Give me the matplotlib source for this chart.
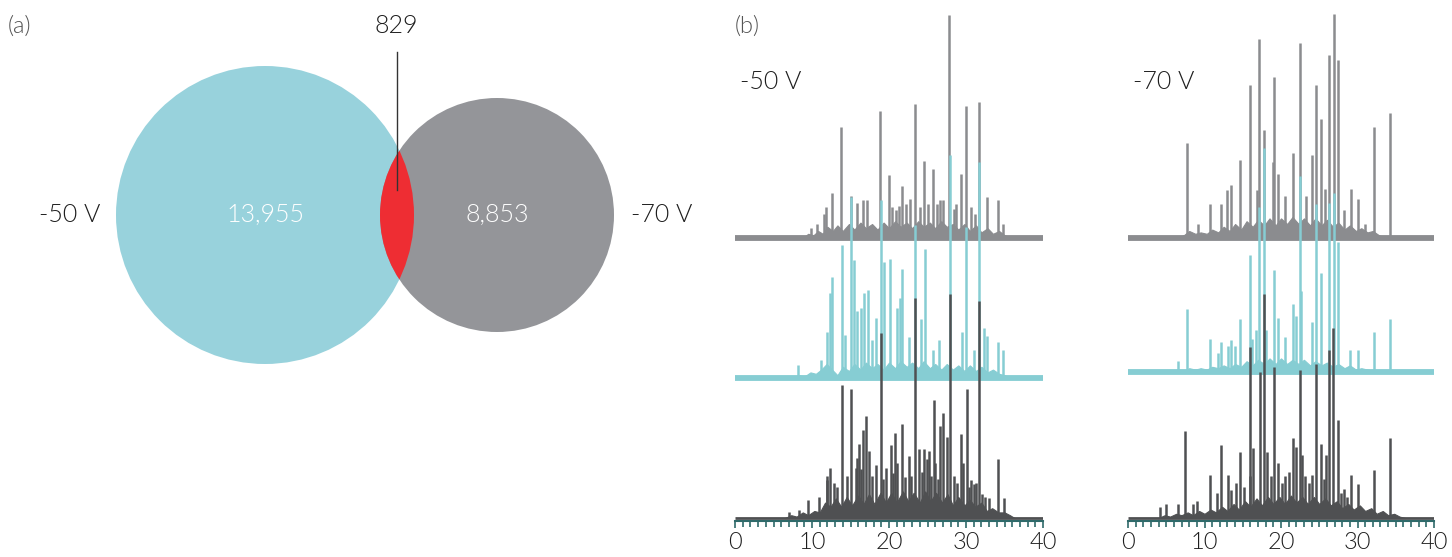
import matplotlib
matplotlib.use('Agg')
import matplotlib.pyplot as plt
from matplotlib.patches import Circle

# ---- Venn counts (a) ----
venn_labels = ['-50 V', '-70 V']
only_50 = 13955
only_70 = 8853
shared = 829

# ---- chromatograms (b): peak position (min) and height (units of trace offset) ----
# -50 V panel
p50_top_x = [9.9, 10.7, 11.5, 11.8, 12.6, 13.8, 15.0, 15.8, 16.6, 17.1, 18.8, 20.0, 20.4, 20.9,
             21.3, 21.7, 22.2, 22.7, 23.4, 24.0, 24.6, 25.1, 25.7, 26.2, 26.6, 27.0, 27.8, 28.4,
             28.7, 29.4, 30.0, 30.6, 31.2, 31.7, 32.7, 34.2, 34.8]
p50_top_h = [0.07, 0.1, 0.17, 0.22, 0.32, 0.79, 0.30, 0.25, 0.27, 0.27, 0.91, 0.45, 0.22, 0.2,
             0.23, 0.37, 0.24, 0.28, 0.96, 0.22, 0.55, 0.24, 0.49, 0.24, 0.27, 0.27, 1.59, 0.21,
             0.24, 0.46, 0.94, 0.22, 0.17, 0.97, 0.29, 0.27, 0.1]
p50_mid_x = [8.2, 11.2, 11.9, 12.3, 12.6, 13.9, 14.3, 15.0, 15.4, 15.9, 16.4, 16.8, 17.3, 17.8,
             18.3, 19.0, 19.3, 20.1, 21.0, 21.4, 21.7, 22.6, 23.4, 24.1, 24.7, 25.7, 26.5, 27.9,
             29.5, 30.0, 31.0, 31.7, 32.3, 32.7, 34.2, 34.8]
p50_mid_h = [0.09, 0.13, 0.33, 0.61, 0.72, 0.95, 0.31, 1.29, 0.84, 0.48, 0.50, 0.61, 0.63, 0.27,
             0.43, 1.27, 0.83, 0.85, 0.50, 0.57, 0.78, 0.29, 1.09, 0.42, 0.92, 0.20, 0.27, 1.59,
             0.33, 1.08, 0.20, 1.54, 0.36, 0.30, 0.26, 0.20]
p50_bot_x = [7.0, 8.3, 9.5, 10.9, 11.9, 12.0, 12.3, 12.8, 13.2, 13.9, 14.5, 15.0, 15.7, 15.8,
             16.1, 16.3, 16.6, 17.0, 17.4, 17.8, 18.3, 18.9, 19.2, 19.6, 20.2, 20.5, 20.8, 21.1,
             21.7, 22.1, 22.6, 22.9, 23.4, 23.9, 24.3, 24.6, 24.9, 25.2, 25.5, 25.8, 26.0, 26.3,
             26.6, 27.0, 27.5, 27.9, 28.4, 28.8, 29.3, 29.6, 30.1, 30.4, 30.7, 31.0, 31.3, 31.7,
             32.1, 32.5, 33.0, 34.2, 34.9]
p50_bot_h = [0.04, 0.06, 0.13, 0.15, 0.27, 0.3, 0.36, 0.25, 0.22, 0.95, 0.3, 0.92, 0.36, 0.43,
             0.53, 0.35, 0.63, 0.73, 0.48, 0.3, 0.38, 1.32, 0.28, 0.36, 0.52, 0.32, 0.61, 0.39,
             0.67, 0.29, 0.44, 0.3, 1.57, 0.49, 0.33, 0.49, 0.42, 0.48, 0.3, 0.84, 0.39, 0.28,
             0.66, 0.75, 0.58, 1.60, 0.3, 0.25, 0.60, 0.39, 0.92, 0.22, 0.27, 0.24, 0.25, 1.55,
             0.17, 0.15, 0.14, 0.42, 0.14]
# unresolved background ("grass") under each trace, jagged top
h50_top_x = [8.8, 9.5, 10.2, 10.8, 11.4, 12.0, 12.7, 13.3, 14.0, 14.8, 15.5, 16.3, 17.0, 17.8,
             18.5, 19.3, 20.0, 20.8, 21.5, 22.3, 23.0, 23.8, 24.5, 25.3, 26.0, 26.8, 27.5, 28.3,
             29.0, 29.8, 30.5, 31.3, 32.0, 32.8, 33.5, 34.3, 35.0, 35.8]
h50_top_h = [0, 0.03, 0.02, 0.05, 0.03, 0.08, 0.05, 0.09, 0.05, 0.1, 0.06, 0.11, 0.07, 0.1,
             0.06, 0.11, 0.07, 0.12, 0.08, 0.11, 0.07, 0.12, 0.08, 0.11, 0.07, 0.12, 0.08, 0.1,
             0.06, 0.1, 0.05, 0.09, 0.04, 0.07, 0.03, 0.05, 0.02, 0]
h50_mid_x = [7.5, 8.3, 9.0, 9.8, 10.5, 11.2, 11.9, 12.6, 13.3, 14.0, 14.8, 15.5, 16.3, 17.0,
             17.8, 18.5, 19.3, 20.0, 20.8, 21.5, 22.3, 23.0, 23.8, 24.5, 25.3, 26.0, 26.8, 27.5,
             28.3, 29.0, 29.8, 30.5, 31.3, 32.0, 32.8, 33.5, 34.3, 35.0, 35.8]
h50_mid_h = [0, 0.02, 0.01, 0.04, 0.03, 0.06, 0.1, 0.06, 0.02, 0.08, 0.05, 0.1, 0.06, 0.11,
             0.07, 0.1, 0.06, 0.11, 0.07, 0.12, 0.08, 0.11, 0.07, 0.12, 0.07, 0.1, 0.06, 0.1,
             0.06, 0.09, 0.05, 0.09, 0.05, 0.08, 0.04, 0.06, 0.03, 0.02, 0]
h50_bot_x = [6.5, 7.3, 8.0, 8.8, 9.5, 10.3, 11.0, 11.7, 12.4, 13.1, 13.8, 14.5, 15.2, 16.0,
             16.7, 17.4, 18.1, 18.9, 19.6, 20.3, 21.0, 21.8, 22.5, 23.2, 24.0, 24.7, 25.4, 26.1,
             26.9, 27.6, 28.3, 29.0, 29.8, 30.5, 31.2, 32.0, 32.7, 33.4, 34.2, 35.0, 35.7, 36.3]
h50_bot_h = [0, 0.02, 0.01, 0.04, 0.02, 0.05, 0.04, 0.11, 0.08, 0.14, 0.08, 0.15, 0.09, 0.16,
             0.1, 0.17, 0.1, 0.18, 0.11, 0.18, 0.11, 0.19, 0.12, 0.18, 0.11, 0.19, 0.12, 0.18,
             0.11, 0.17, 0.09, 0.15, 0.09, 0.13, 0.08, 0.11, 0.05, 0.07, 0.04, 0.04, 0.02, 0]

# -70 V panel
p70_top_x = [7.7, 9.2, 10.7, 12.2, 12.9, 13.4, 14.6, 15.9, 16.8, 17.1, 17.8, 18.9, 19.05, 19.6,
             20.5, 21.6, 22.5, 23.3, 24.0, 24.6, 25.2, 25.7, 26.3, 26.9, 27.4, 28.2, 29.1, 30.1,
             31.0, 32.1, 34.2]
p70_top_h = [0.68, 0.1, 0.24, 0.24, 0.34, 0.38, 0.56, 1.09, 0.34, 1.42, 0.77, 0.54, 1.15, 0.46,
             0.3, 0.61, 1.39, 0.3, 0.59, 1.09, 0.85, 0.35, 1.31, 1.60, 1.27, 0.2, 0.35, 0.28,
             0.1, 0.79, 0.89]
p70_mid_x = [6.6, 7.7, 10.7, 11.7, 12.2, 13.1, 13.4, 14.0, 14.6, 15.9, 16.2, 16.7, 17.1, 17.8,
             18.1, 19.05, 19.6, 20.5, 21.6, 22.0, 22.5, 22.6, 24.0, 24.6, 25.2, 26.3, 26.9, 27.4,
             29.0, 30.1, 32.1, 34.2]
p70_mid_h = [0.08, 0.45, 0.24, 0.14, 0.22, 0.19, 0.23, 0.19, 0.38, 0.84, 0.24, 0.30, 1.18, 1.60,
             0.30, 0.73, 0.39, 0.25, 0.49, 0.40, 1.40, 0.58, 0.36, 1.20, 0.71, 1.21, 1.28, 0.93,
             0.16, 0.16, 0.29, 0.38]
p70_bot_x = [4.2, 5.0, 6.5, 7.45, 8.5, 9.0, 10.7, 11.6, 12.2, 13.1, 13.5, 14.1, 14.6, 15.2,
             15.9, 16.0, 16.4, 17.2, 17.8, 18.2, 18.7, 19.05, 19.6, 20.1, 20.5, 21.0, 21.6, 22.0,
             22.5, 22.7, 23.2, 23.6, 24.0, 24.6, 25.2, 25.6, 25.9, 26.3, 26.8, 27.4, 27.8, 28.2,
             28.6, 29.1, 30.1, 32.1, 34.2]
p70_bot_h = [0.08, 0.1, 0.1, 0.62, 0.1, 0.12, 0.31, 0.18, 0.52, 0.31, 0.2, 0.25, 0.47, 0.22,
             1.22, 0.3, 0.50, 1.04, 1.60, 0.47, 0.3, 1.08, 0.39, 0.25, 0.3, 0.33, 0.57, 0.51,
             1.06, 0.45, 0.3, 0.25, 0.31, 1.10, 0.53, 0.28, 0.45, 1.20, 1.36, 0.70, 0.18, 0.21,
             0.15, 0.31, 0.24, 0.34, 0.57]
h70_top_x = [6.5, 7.3, 8.0, 8.8, 9.5, 10.3, 11.0, 11.8, 12.5, 13.3, 14.0, 14.8, 15.5, 16.3,
             17.0, 17.8, 18.5, 19.3, 20.0, 20.8, 21.5, 22.3, 23.0, 23.8, 24.5, 25.3, 26.0, 26.8,
             27.5, 28.3, 29.0, 29.8, 30.5, 31.3, 32.0, 32.8, 33.5]
h70_top_h = [0, 0.02, 0.05, 0.03, 0.04, 0.03, 0.06, 0.04, 0.08, 0.05, 0.1, 0.06, 0.12, 0.08,
             0.13, 0.09, 0.14, 0.09, 0.14, 0.1, 0.15, 0.1, 0.14, 0.09, 0.14, 0.09, 0.13, 0.08,
             0.11, 0.06, 0.09, 0.05, 0.07, 0.04, 0.05, 0.02, 0]
h70_mid_x = [6.5, 7.3, 8.0, 8.8, 9.5, 10.3, 11.0, 11.8, 12.5, 13.3, 14.0, 14.8, 15.5, 16.3,
             17.0, 17.8, 18.5, 19.3, 20.0, 20.8, 21.5, 22.3, 23.0, 23.8, 24.5, 25.3, 26.0, 26.8,
             27.5, 28.3, 29.0, 29.8, 30.5, 31.3, 32.0, 32.6]
h70_mid_h = [0, 0.01, 0.03, 0.02, 0.03, 0.02, 0.04, 0.03, 0.05, 0.03, 0.06, 0.04, 0.08, 0.05,
             0.09, 0.06, 0.1, 0.06, 0.1, 0.06, 0.09, 0.06, 0.09, 0.05, 0.08, 0.05, 0.07, 0.04,
             0.06, 0.03, 0.05, 0.02, 0.03, 0.02, 0.01, 0]
h70_bot_x = [4.0, 4.8, 5.5, 6.3, 7.0, 7.8, 8.5, 9.3, 10.0, 10.8, 11.5, 12.3, 13.0, 13.8,
             14.5, 15.3, 16.0, 16.8, 17.5, 18.3, 19.0, 19.8, 20.5, 21.3, 22.0, 22.8, 23.5, 24.3,
             25.0, 25.8, 26.5, 27.3, 28.0, 28.8, 29.5, 30.3, 31.0, 31.8, 32.5, 33.3, 34.0, 34.8,
             35.5, 36.2]
h70_bot_h = [0, 0.02, 0.01, 0.03, 0.02, 0.04, 0.02, 0.05, 0.03, 0.06, 0.04, 0.08, 0.05, 0.1,
             0.06, 0.12, 0.08, 0.14, 0.09, 0.15, 0.1, 0.15, 0.1, 0.16, 0.11, 0.15, 0.1, 0.15,
             0.1, 0.14, 0.09, 0.12, 0.07, 0.1, 0.06, 0.09, 0.05, 0.07, 0.03, 0.05, 0.02, 0.03,
             0.01, 0]

# ---- styles ----
c_cyan_venn = '#98d2dc'
c_gray_venn = '#949599'
c_red = '#ee2d33'
c_top = '#8b8c8f'
c_mid = '#86cdd3'
c_bot = '#4f5052'
c_axis = '#2f6a6a'
txt = '#1e1e1e'
fw = 300

plt.rcParams['font.family'] = ['Lato', 'DejaVu Sans']

W, H = 1452, 557
fig = plt.figure(figsize=(W / 100, H / 100), dpi=100)

# ---------- (a) Venn ----------
ax = fig.add_axes([0, 0, 720 / W, 1])
ax.set_xlim(0, 720)
ax.set_ylim(H, 0)
ax.axis('off')

ca = (265, 215)
cb = (497, 215)
ra, rb = 149, 117
circ_a = Circle(ca, ra, color=c_cyan_venn, lw=0)
circ_b = Circle(cb, rb, color=c_gray_venn, lw=0)
ax.add_patch(circ_a)
ax.add_patch(circ_b)
lens = Circle(cb, rb, color=c_red, lw=0)
ax.add_patch(lens)
lens.set_clip_path(circ_a)

ax.text(ca[0], ca[1], f'{only_50:,}', color='white', fontsize=18, fontweight=fw,
        ha='center', va='center')
ax.text(cb[0], cb[1], f'{only_70:,}', color='white', fontsize=18, fontweight=fw,
        ha='center', va='center')
ax.text(70, 215, venn_labels[0], color=txt, fontsize=18, fontweight=fw, ha='center', va='center')
ax.text(662, 215, venn_labels[1], color=txt, fontsize=18, fontweight=fw, ha='center', va='center')
ax.plot([397, 397], [52, 190], color='#333333', lw=1)
ax.text(396, 26, f'{shared}', color=txt, fontsize=18, fontweight=fw, ha='center', va='center')
fig.text(8 / W, 1 - 26 / H, '(a)', color='#555555', fontsize=17, fontweight=fw, va='center')
fig.text(735 / W, 1 - 26 / H, '(b)', color='#555555', fontsize=17, fontweight=fw, va='center')


# ---------- (b) chromatograms ----------
def draw_trace(ax, px, ph, hx, hh, base, color, z, base_lw):
    ax.plot([0, 40], [base, base], color=color, lw=base_lw, solid_capstyle='butt', zorder=z)
    ax.fill_between(hx, [base] * len(hx), [base + v for v in hh], color=color, lw=0.8,
                    edgecolor=color, zorder=z)
    ax.vlines(px, base, [base + v for v in ph], color=color, lw=1.8, zorder=z)


panels = [
    (735, 308, '-50 V', [(p50_top_x, p50_top_h, h50_top_x, h50_top_h, 2.0, c_top),
                         (p50_mid_x, p50_mid_h, h50_mid_x, h50_mid_h, 1.0, c_mid),
                         (p50_bot_x, p50_bot_h, h50_bot_x, h50_bot_h, 0.0, c_bot)]),
    (1128, 306, '-70 V', [(p70_top_x, p70_top_h, h70_top_x, h70_top_h, 2.0, c_top),
                          (p70_mid_x, p70_mid_h, h70_mid_x, h70_mid_h, 1.04, c_mid),
                          (p70_bot_x, p70_bot_h, h70_bot_x, h70_bot_h, 0.0, c_bot)]),
]

unit = 140.0
for left, width, label, traces in panels:
    bottom_px = 521
    axb = fig.add_axes([left / W, (H - bottom_px) / H, width / W, bottom_px / H])
    axb.set_xlim(0, 40)
    axb.set_ylim(-3 / unit, 518 / unit)
    for z, (px, ph, hx, hh, base, color) in enumerate(traces):
        draw_trace(axb, px, ph, hx, hh, base, color, z + 1, 2.0 if base == 0 else 4.2)
    for s in ['top', 'right', 'left']:
        axb.spines[s].set_visible(False)
    axb.spines['bottom'].set_color(c_axis)
    axb.spines['bottom'].set_linewidth(1.5)
    axb.set_yticks([])
    axb.set_xticks([0, 10, 20, 30, 40])
    axb.set_xticks(range(0, 41), minor=True)
    axb.tick_params(axis='x', which='both', direction='out', color=c_axis, width=1.2)
    axb.tick_params(axis='x', which='major', length=5, labelsize=17, labelcolor=txt, pad=3)
    axb.tick_params(axis='x', which='minor', length=4)
    for t in axb.get_xticklabels():
        t.set_fontweight(fw)
    axb.text(0.6, (518 - 82) / unit, label, color=txt, fontsize=18, fontweight=fw,
             ha='left', va='center')
    axb.patch.set_alpha(0)

fig.savefig('out.png', dpi=100)
